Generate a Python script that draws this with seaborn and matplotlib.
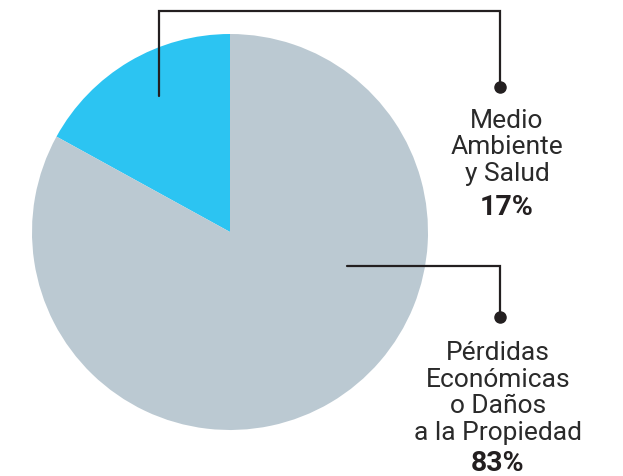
import matplotlib
matplotlib.use("Agg")
import matplotlib.pyplot as plt
import seaborn as sns

# Data
categories = ["Medio Ambiente y Salud", "Pérdidas Económicas o Daños a la Propiedad"]
shares = [17, 83]
pct_labels = ["17%", "83%"]
label_lines = [["Medio", "Ambiente", "y Salud"],
               ["Pérdidas", "Económicas", "o Daños", "a la Propiedad"]]
colors = ["#2CC4F2", "#BBC9D2"]

sns.set_theme(style="white")
plt.rcParams['font.family'] = ['Roboto', 'DejaVu Sans']

W, H = 623, 477
fig = plt.figure(figsize=(W / 100, H / 100), dpi=100)
ax = fig.add_axes([0, 0, 1, 1])

def Y(py):
    # pixel row (from top) -> data y
    return H - py

ax.pie(shares, colors=colors, startangle=90, counterclock=True,
       center=(230, Y(233)), radius=198, frame=True,
       wedgeprops=dict(linewidth=0))
ax.set_xlim(0, W)
ax.set_ylim(0, H)
ax.axis('off')

ink = "#231F20"
lw = 1.6

# leader for the small slice
ax.plot([159, 159, 500, 500], [Y(97), Y(12), Y(12), Y(88)], color=ink, lw=lw,
        solid_joinstyle='miter')
ax.plot([500], [Y(88)], 'o', color=ink, ms=8)
# leader for the large slice
ax.plot([347, 500, 500], [Y(267), Y(267), Y(318)], color=ink, lw=lw,
        solid_joinstyle='miter')
ax.plot([500], [Y(318)], 'o', color=ink, ms=8)

fs = 19
step = 26.7

def block(lines, pct, cx, first_base, pct_base):
    for i, line in enumerate(lines):
        ax.text(cx, Y(first_base + i * step), line, ha='center', va='baseline',
                fontsize=fs, color="#2a2a2a")
    ax.text(cx, Y(pct_base), pct, ha='center', va='baseline', fontsize=20.5,
            fontweight='bold', color=ink)

block(label_lines[0], pct_labels[0], 507, 127.5, 215)
block(label_lines[1], pct_labels[1], 498, 360, 471.5)

fig.savefig("out.png", dpi=100)
